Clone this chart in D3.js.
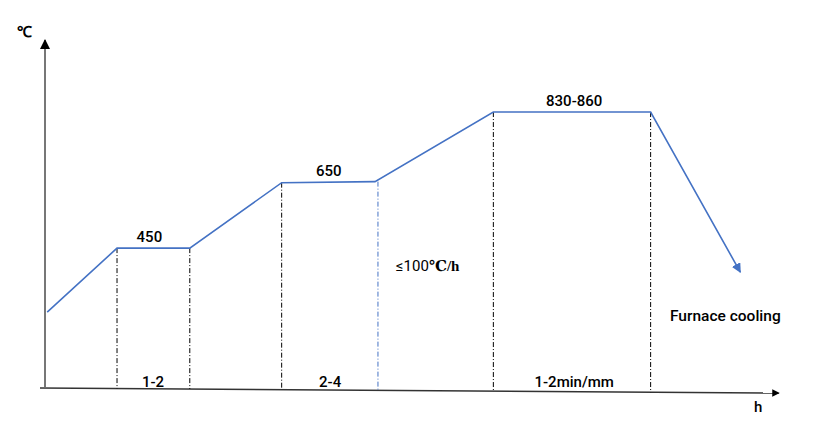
<!DOCTYPE html>
<html><head><meta charset="utf-8">
<script src="https://cdn.jsdelivr.net/npm/d3@7"></script>
<style>body{margin:0;background:#fff}svg{display:block}</style>
</head><body><svg id="c" width="826" height="432"></svg>
<script>
// schematic time (arbitrary units) and temperature levels (schematic units)
const times = [0.3, 9.8, 19.7, 32.2, 44.9, 61.0, 82.4, 94.6];
const levels = [218, 402, 402, 590, 593, 793, 793, 333];
// vertical guide lines at stage boundaries
const guideTimes = [9.8, 19.7, 32.2, 45.3, 61.0, 82.4];
const guideLevels = [402, 402, 590, 593, 793, 793];
const guideBlue = [false, false, false, true, false, false];
// stage labels
const tempLabels = ["450", "650", "830-860"];
const tempLabelTimes = [14.2, 38.6, 72.0];
const tempLabelLevels = [402, 593, 793];
const durLabels = ["1-2", "2-4", "1-2min/mm"];
const durLabelTimes = [14.7, 38.8, 72.0];

const svg = d3.select("#c");
const x = d3.scaleLinear().domain([0, 100]).range([45, 780]);
const y = d3.scaleLinear().domain([0, 1000]).range([388, 40]);
const font = "Roboto,'Noto Sans',sans-serif";

const defs = svg.append("defs");
defs.append("marker").attr("id","blk").attr("viewBox","0 0 10 10").attr("refX",9).attr("refY",5)
  .attr("markerWidth",5).attr("markerHeight",5).attr("orient","auto")
  .append("path").attr("d","M0,0L10,5L0,10Z").attr("fill","#000");
defs.append("marker").attr("id","blu").attr("viewBox","0 0 10 10").attr("refX",9).attr("refY",5)
  .attr("markerWidth",6).attr("markerHeight",6).attr("orient","auto")
  .append("path").attr("d","M0,0L10,5L0,10Z").attr("fill","#4472C4");

// axes
svg.append("line").attr("x1", x(0)).attr("y1", 387).attr("x2", x(0)).attr("y2", 40)
  .attr("stroke","#777").attr("stroke-width",2).attr("marker-end","url(#blk)");
svg.append("line").attr("x1", x(0) - 5).attr("y1", 388).attr("x2", 779).attr("y2", 393)
  .attr("stroke","#333").attr("stroke-width",1.5).attr("marker-end","url(#blk)");
svg.append("text").attr("x", 17).attr("y", 37).text("℃")
  .attr("font-family", "'Liberation Serif',serif").attr("font-size", 15).attr("font-weight","bold");
svg.append("text").attr("x", 754).attr("y", 412).text("h")
  .attr("font-family", font).attr("font-size", 15).attr("font-weight", 500);

// axis baseline (slightly tilted) for guide ends
const axisY = t => 388 + (x(t) - 40) * (5 / 739);

// guides
svg.selectAll(".g").data(guideTimes).enter().append("line")
  .attr("x1", d => x(d)).attr("x2", d => x(d))
  .attr("y1", (d,i) => y(guideLevels[i])).attr("y2", d => axisY(d))
  .attr("stroke", (d,i) => guideBlue[i] ? "#4472C4" : "#000")
  .attr("stroke-width", 1).attr("stroke-dasharray","5,2,1,2");

// main curve
const pts = times.map((t,i) => [x(t), y(levels[i])]);
svg.append("path").attr("d", d3.line()(pts)).attr("fill","none")
  .attr("stroke","#4472C4").attr("stroke-width",1.6).attr("marker-end","url(#blu)");

// labels
svg.selectAll(".tl").data(tempLabels).enter().append("text")
  .attr("x", (d,i) => x(tempLabelTimes[i])).attr("y", (d,i) => y(tempLabelLevels[i]) - 6)
  .attr("text-anchor","middle").attr("font-family", font).attr("font-size", 15).attr("font-weight", 500).text(d => d);
svg.selectAll(".dl").data(durLabels).enter().append("text")
  .attr("x", (d,i) => x(durLabelTimes[i])).attr("y", 387)
  .attr("text-anchor","middle").attr("font-family", font).attr("font-size", 15).attr("font-weight", 500).text(d => d);

const rate = svg.append("text").attr("x", 396).attr("y", 271).attr("font-size", 15);
rate.append("tspan").attr("font-family", font).text("≤100");
rate.append("tspan").attr("font-family", "'Liberation Serif','DejaVu Serif',serif").attr("font-weight","bold").text("℃/h");

svg.append("text").attr("x", 670).attr("y", 321).attr("font-family", font).attr("font-size", 15.5).attr("font-weight", 500).text("Furnace cooling");
</script></body></html>
